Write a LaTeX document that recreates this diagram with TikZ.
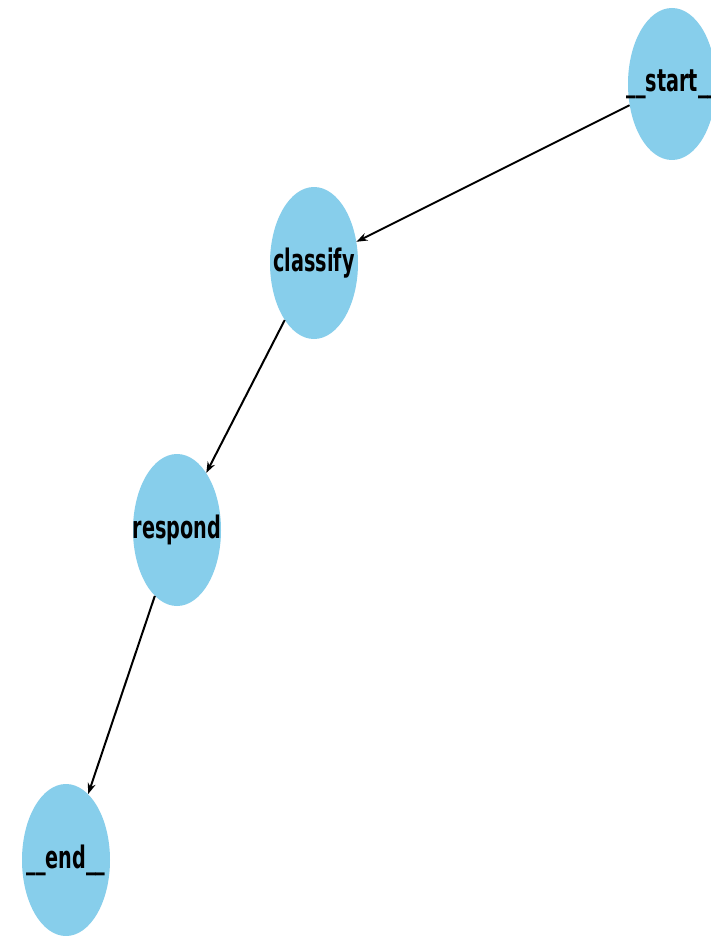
\documentclass[tikz,border=0pt]{standalone}
\usepackage{fontspec}
\setmainfont{DejaVu Sans}
\usepackage{xcolor}
\usepackage{tikz}
\usetikzlibrary{arrows.meta,shapes.geometric}
\definecolor{skyc}{HTML}{87CEEB}
\tikzset{
  ar/.style={-{Stealth[length=11pt,width=8pt]},line width=2pt,black},
  st/.style={ellipse,fill=skyc,minimum width=88pt,minimum height=152pt,inner sep=0pt},
  lb/.style={inner sep=0pt,font=\fontsize{31}{34}\selectfont\bfseries}
}
\newcommand{\nm}[1]{\scalebox{0.62}[1]{#1}}

\begin{document}
\begin{tikzpicture}[x=1pt,y=-1pt]
\useasboundingbox[fill=white] (0,0) rectangle (710,936);
\node[st,label={[lb]center:\nm{\_\_start\_\_}}] (start) at (672,84) {};
\node[st,label={[lb]center:\nm{classify}}] (classify) at (314,263) {};
\node[st,label={[lb]center:\nm{respond}}] (respond) at (177,530) {};
\node[st,label={[lb]center:\nm{\_\_end\_\_}}] (end) at (66,860) {};
\draw[ar] (start) -- (classify);
\draw[ar] (classify) -- (respond);
\draw[ar] (respond) -- (end);
\end{tikzpicture}
\end{document}
